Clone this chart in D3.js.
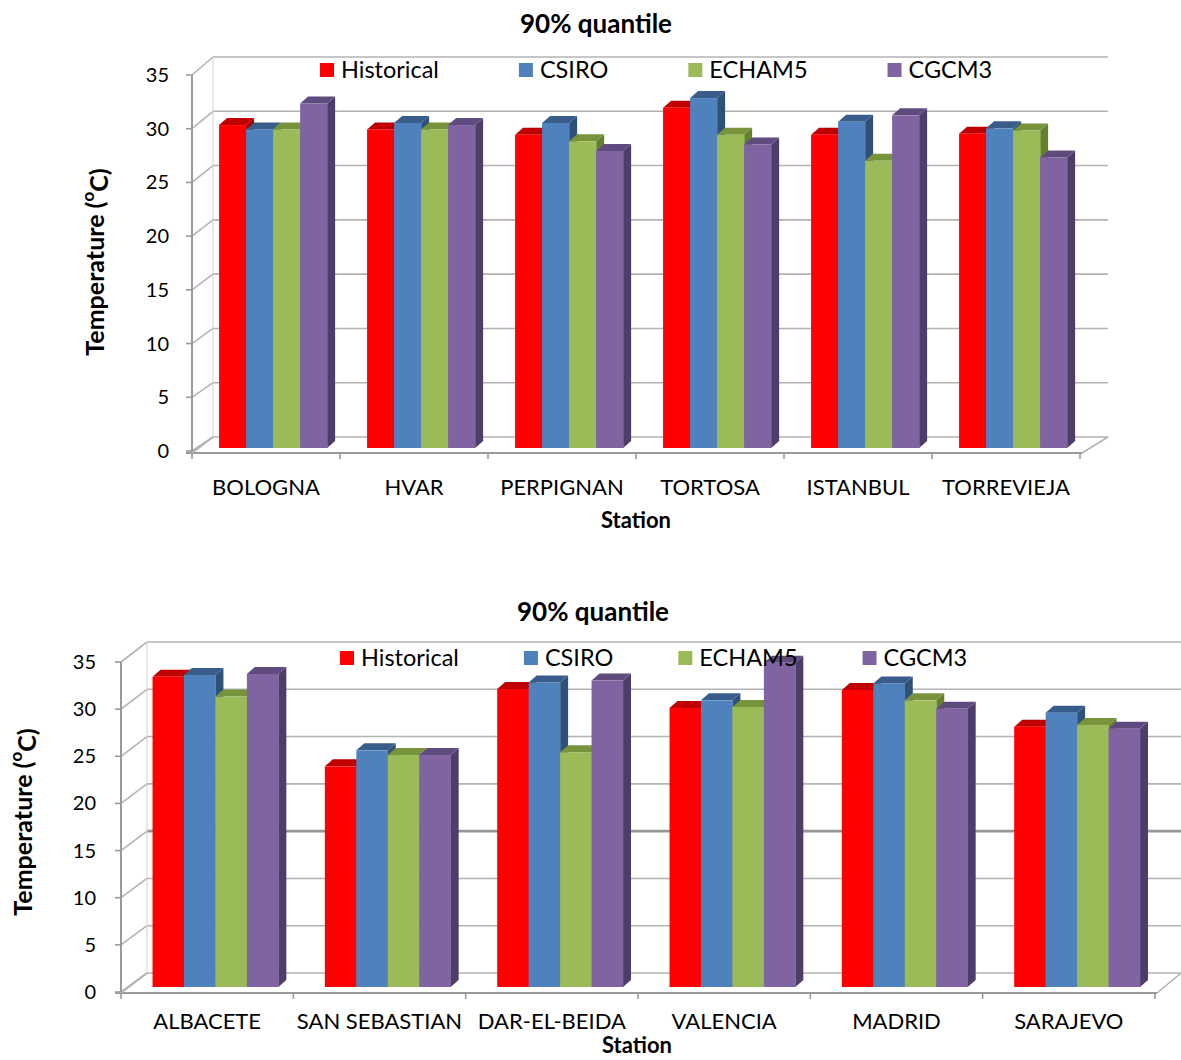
<!DOCTYPE html>
<html><head><meta charset="utf-8">
<script src="https://cdn.jsdelivr.net/npm/d3@7"></script>
<style>
html,body{margin:0;padding:0;background:#fff;}
svg{display:block;font-family:Lato, "Open Sans", sans-serif;}
</style></head>
<body>
<svg id="chart" width="1181" height="1060"></svg>
<script>
// ---- data ----
const seriesNames = ["Historical", "CSIRO", "ECHAM5", "CGCM3"];
const seriesColors = ["#ff0000", "#4f81bd", "#9bbb59", "#8064a2"];
const seriesTopColors = ["#c00000", "#385d8a", "#77933c", "#5f4b7e"];
const seriesSideColors = ["#a00000", "#2f5077", "#64802e", "#4f3d69"];
const yTicks = [0, 5, 10, 15, 20, 25, 30, 35];

const topStations = ["BOLOGNA", "HVAR", "PERPIGNAN", "TORTOSA", "ISTANBUL", "TORREVIEJA"];
const topHistorical = [29.9, 29.5, 29.0, 31.5, 29.0, 29.1];
const topCSIRO      = [29.5, 30.1, 30.1, 32.4, 30.2, 29.6];
const topECHAM5     = [29.5, 29.5, 28.4, 29.0, 26.6, 29.4];
const topCGCM3      = [31.9, 29.9, 27.5, 28.1, 30.8, 26.9];

const bottomStations = ["ALBACETE", "SAN SEBASTIAN", "DAR-EL-BEIDA", "VALENCIA", "MADRID", "SARAJEVO"];
const bottomHistorical = [32.9, 23.4, 31.6, 29.6, 31.5, 27.6];
const bottomCSIRO      = [33.1, 25.1, 32.3, 30.4, 32.2, 29.1];
const bottomECHAM5     = [30.8, 24.6, 24.9, 29.7, 30.4, 27.8];
const bottomCGCM3      = [33.2, 24.6, 32.5, 34.4, 29.5, 27.4];

const titleText = "90% quantile";
const xTitle = "Station";

// ---- drawing ----
const svg = d3.select("#chart");

function drawChart(cfg) {
  const g = svg.append("g");
  const stations = cfg.stations;
  const values = cfg.values; // array per series
  const yFront = d3.scaleLinear().domain([0, 35]).range(cfg.frontRange);
  const yBack = d3.scaleLinear().domain([0, 35]).range(cfg.backRange);
  const yBar = d3.scaleLinear().domain([0, 35]).range(cfg.barRange);
  const x = d3.scaleBand().domain(stations).range(cfg.xRange).paddingInner(0).paddingOuter(0);
  const bw = x.bandwidth();
  const xs = d3.scaleBand().domain(seriesNames).range([0.183 * bw, 0.913 * bw]).padding(0);
  const gridColor = "#b3b3b3";
  const axisColor = "#9a9a9a";

  // back wall gridlines
  yTicks.forEach(t => {
    const dark = cfg.darkTick === t;
    g.append("line")
      .attr("x1", cfg.backX0).attr("x2", cfg.backX1)
      .attr("y1", yBack(t)).attr("y2", yBack(t))
      .attr("stroke", dark ? "#969696" : gridColor)
      .attr("stroke-width", dark ? 2.6 : 1.6);
    g.append("line")
      .attr("x1", cfg.frontX).attr("y1", yFront(t))
      .attr("x2", cfg.backX0).attr("y2", yBack(t))
      .attr("stroke", gridColor).attr("stroke-width", 1.6);
  });
  g.append("line")
    .attr("x1", cfg.backX0).attr("x2", cfg.backX0)
    .attr("y1", yBack(35)).attr("y2", yBack(0))
    .attr("stroke", "#d0d0d0").attr("stroke-width", 1);

  // floor right diagonal
  g.append("line")
    .attr("x1", cfg.xRange[1] + 2).attr("y1", cfg.floorY)
    .attr("x2", cfg.backX1).attr("y2", yBack(0))
    .attr("stroke", gridColor).attr("stroke-width", 1.6);

  // front y axis
  g.append("line")
    .attr("x1", cfg.frontX).attr("x2", cfg.frontX)
    .attr("y1", yFront(35)).attr("y2", cfg.floorY)
    .attr("stroke", axisColor).attr("stroke-width", 2);
  yTicks.forEach(t => {
    g.append("line")
      .attr("x1", cfg.frontX - 6).attr("x2", cfg.frontX)
      .attr("y1", yFront(t)).attr("y2", yFront(t))
      .attr("stroke", axisColor).attr("stroke-width", 1.6);
    g.append("text")
      .attr("x", cfg.tickLabelX).attr("y", yFront(t))
      .attr("dy", "0.35em").attr("text-anchor", "end")
      .attr("font-size", 20).attr("fill", "#000")
      .text(t);
  });

  // bars
  stations.forEach((s, i) => {
    seriesNames.forEach((sn, k) => {
      const v = values[k][i];
      const x0 = x(s) + xs(sn);
      const w = xs.bandwidth();
      const y0 = yBar(0), y1 = yBar(v);
      const dx = cfg.depth[0], dy = cfg.depth[1];
      g.append("path")
        .attr("d", `M${x0 + w},${y1} L${x0 + w + dx},${y1 + dy} L${x0 + w + dx},${y0 + dy} L${x0 + w},${y0} Z`)
        .attr("fill", seriesSideColors[k]);
      g.append("path")
        .attr("d", `M${x0},${y1} L${x0 + dx},${y1 + dy} L${x0 + w + dx},${y1 + dy} L${x0 + w},${y1} Z`)
        .attr("fill", seriesTopColors[k]);
      g.append("rect")
        .attr("x", x0).attr("y", y1)
        .attr("width", w + 0.3).attr("height", y0 - y1)
        .attr("fill", seriesColors[k]);
    });
  });

  // front x axis line
  g.append("line")
    .attr("x1", cfg.frontX - 6).attr("x2", cfg.xRange[1] + 2)
    .attr("y1", cfg.floorY).attr("y2", cfg.floorY)
    .attr("stroke", axisColor).attr("stroke-width", 2);
  g.append("line")
    .attr("x1", cfg.frontX).attr("y1", cfg.floorY)
    .attr("x2", cfg.backX0).attr("y2", yBack(0))
    .attr("stroke", gridColor).attr("stroke-width", 1.6);
  const bounds = stations.map(s => x(s)).concat([cfg.xRange[1]]);
  bounds.forEach(b => {
    g.append("line")
      .attr("x1", b).attr("x2", b)
      .attr("y1", cfg.floorY).attr("y2", cfg.floorY + 6)
      .attr("stroke", axisColor).attr("stroke-width", 1.6);
  });
  stations.forEach(s => {
    g.append("text")
      .attr("x", x(s) + bw / 2).attr("y", cfg.xLabelY)
      .attr("dy", "0.35em").attr("text-anchor", "middle")
      .attr("font-size", 22).text(s);
  });

  // titles
  g.append("text")
    .attr("x", cfg.titlePos[0]).attr("y", cfg.titlePos[1])
    .attr("dy", "0.35em").attr("text-anchor", "middle")
    .attr("font-size", 26).attr("font-weight", "bold").text(titleText);
  g.append("text")
    .attr("x", cfg.xTitlePos[0]).attr("y", cfg.xTitlePos[1])
    .attr("dy", "0.35em").attr("text-anchor", "middle")
    .attr("font-size", 22).attr("font-weight", "bold").text(xTitle);
  const yt = g.append("text")
    .attr("transform", `translate(${cfg.yTitlePos[0]},${cfg.yTitlePos[1]}) rotate(-90)`)
    .attr("dy", "0.35em").attr("text-anchor", "middle")
    .attr("font-size", 25).attr("font-weight", "bold");
  yt.append("tspan").text("Temperature (");
  yt.append("tspan").attr("font-size", 17).attr("dy", "-0.55em").text("o");
  yt.append("tspan").attr("dy", "0.55em").text("C)");

  // legend
  let lx = cfg.legendPos[0];
  const ly = cfg.legendPos[1];
  seriesNames.forEach((sn, k) => {
    g.append("rect")
      .attr("x", lx).attr("y", ly - 7).attr("width", 14).attr("height", 14)
      .attr("fill", seriesColors[k]);
    const t = g.append("text")
      .attr("x", lx + 21).attr("y", ly)
      .attr("dy", "0.35em").attr("font-size", 23.5).text(sn);
    lx += 21 + t.node().getComputedTextLength() + cfg.legendGap;
  });
}

drawChart({
  stations: topStations,
  values: [topHistorical, topCSIRO, topECHAM5, topCGCM3],
  frontRange: [451, 75], backRange: [437, 57], barRange: [448, 70],
  xRange: [192, 1080], frontX: 192, backX0: 213, backX1: 1108,
  floorY: 453, depth: [8, -7], tickLabelX: 169, xLabelY: 487,
  titlePos: [596, 24], xTitlePos: [636, 520], yTitlePos: [95, 262],
  legendPos: [320, 70], legendGap: 80, darkTick: null
});

drawChart({
  stations: bottomStations,
  values: [bottomHistorical, bottomCSIRO, bottomECHAM5, bottomCGCM3],
  frontRange: [992, 662], backRange: [973, 642], barRange: [987, 657],
  xRange: [121, 1155], frontX: 121, backX0: 147, backX1: 1181,
  floorY: 993, depth: [8, -7], tickLabelX: 96, xLabelY: 1021,
  titlePos: [593, 612], xTitlePos: [637, 1045], yTitlePos: [23, 822],
  legendPos: [340, 658], legendGap: 65, darkTick: 15
});
</script>
</body></html>
